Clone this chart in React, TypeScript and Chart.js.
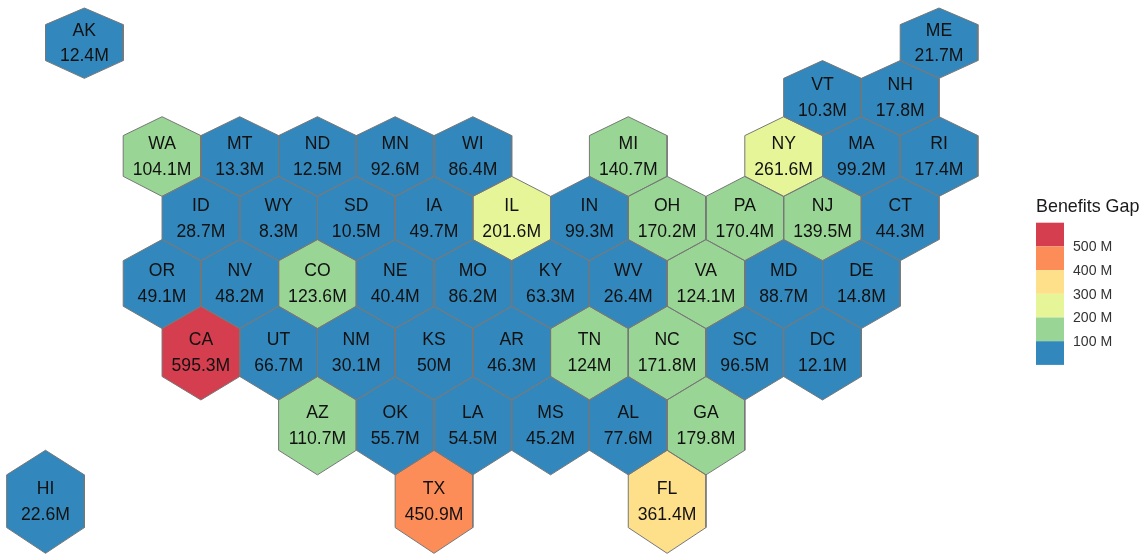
import { useEffect, useRef } from "react";
import { Chart, registerables } from "chart.js";

Chart.register(...registerables);

const stateCodes = [
  "AK", "ME",
  "VT", "NH",
  "WA", "MT", "ND", "MN", "WI", "MI", "NY", "MA", "RI",
  "ID", "WY", "SD", "IA", "IL", "IN", "OH", "PA", "NJ", "CT",
  "OR", "NV", "CO", "NE", "MO", "KY", "WV", "VA", "MD", "DE",
  "CA", "UT", "NM", "KS", "AR", "TN", "NC", "SC", "DC",
  "AZ", "OK", "LA", "MS", "AL", "GA",
  "HI", "TX", "FL",
];

// Benefits gap per state, in millions.
const gapValues = [
  12.4, 21.7,
  10.3, 17.8,
  104.1, 13.3, 12.5, 92.6, 86.4, 140.7, 261.6, 99.2, 17.4,
  28.7, 8.3, 10.5, 49.7, 201.6, 99.3, 170.2, 170.4, 139.5, 44.3,
  49.1, 48.2, 123.6, 40.4, 86.2, 63.3, 26.4, 124.1, 88.7, 14.8,
  595.3, 66.7, 30.1, 50, 46.3, 124, 171.8, 96.5, 12.1,
  110.7, 55.7, 54.5, 45.2, 77.6, 179.8,
  22.6, 450.9, 361.4,
];

// Hex grid position of each state: column in half-hex steps, row from the top.
const gridCols = [
  2, 24,
  21, 23,
  4, 6, 8, 10, 12, 16, 20, 22, 24,
  5, 7, 9, 11, 13, 15, 17, 19, 21, 23,
  4, 6, 8, 10, 12, 14, 16, 18, 20, 22,
  5, 7, 9, 11, 13, 15, 17, 19, 21,
  8, 10, 12, 14, 16, 18,
  1, 11, 17,
];
const gridRows = [
  0, 0,
  1, 1,
  2, 2, 2, 2, 2, 2, 2, 2, 2,
  3, 3, 3, 3, 3, 3, 3, 3, 3, 3,
  4, 4, 4, 4, 4, 4, 4, 4, 4, 4,
  5, 5, 5, 5, 5, 5, 5, 5, 5,
  6, 6, 6, 6, 6, 6,
  7, 7, 7,
];

const binLimits = [100, 200, 300, 400, 500];
const binColors = ["#3288BD", "#99D594", "#E6F598", "#FEE08B", "#FC8D59", "#D53E4F"];
const legendTitle = "Benefits Gap";

const WIDTH = 1147;
const HEIGHT = 554;
const FONT = '"Liberation Sans", Arial, sans-serif';

const colorFor = (v: number) => {
  const bin = binLimits.findIndex((limit) => v < limit);
  return binColors[bin === -1 ? binColors.length - 1 : bin];
};

// The map projection stretches rows progressively toward the south.
const project = (u: number) => 16.94 * u + 0.1962 * u * u;

const hexOutline = (col: number, row: number) => {
  const top = 3 * row;
  const upper = top + 0.97;
  const lower = top + 3;
  const bottom = top + 3.97;
  return [
    { x: col, y: project(top) },
    { x: col + 1, y: project(upper) },
    { x: col + 1, y: project(lower) },
    { x: col, y: project(bottom) },
    { x: col - 1, y: project(lower) },
    { x: col - 1, y: project(upper) },
    { x: col, y: project(top) },
  ];
};

const stateLabels = {
  id: "stateLabels",
  afterDatasetsDraw(chart: any) {
    const { ctx, scales } = chart;
    ctx.save();
    ctx.fillStyle = "#111111";
    ctx.font = `17.6px ${FONT}`;
    ctx.textAlign = "center";
    ctx.textBaseline = "middle";
    stateCodes.forEach((code, i) => {
      const row = gridRows[i];
      const x = scales.x.getPixelForValue(gridCols[i]);
      const y = scales.y.getPixelForValue(project(3 * row + 1.985)) + 1;
      const gap = (25.5 + 0.17 * row) / 2;
      ctx.fillText(code, x, y - gap);
      ctx.fillText(`${gapValues[i]}M`, x, y + gap);
    });
    ctx.restore();
  },
};

const binnedLegend = {
  id: "binnedLegend",
  afterDraw(chart: any) {
    const { ctx } = chart;
    const left = 1036;
    const keyWidth = 28;
    const keyHeight = 23.7;
    const top = 222.7;
    ctx.save();
    ctx.textBaseline = "middle";
    ctx.textAlign = "left";
    ctx.fillStyle = "#1a1a1a";
    ctx.font = `17.9px ${FONT}`;
    ctx.fillText(legendTitle, left, 207);
    const reversed = [...binColors].reverse();
    reversed.forEach((color, i) => {
      ctx.fillStyle = color;
      ctx.fillRect(left, top + i * keyHeight, keyWidth, keyHeight);
    });
    ctx.fillStyle = "#333333";
    ctx.font = `14.1px ${FONT}`;
    [...binLimits].reverse().forEach((limit, i) => {
      ctx.fillText(`${limit} M`, 1073, top + (i + 1) * keyHeight + 1);
    });
    ctx.restore();
  },
};

export default function App() {
  const canvasRef = useRef<HTMLCanvasElement>(null);

  useEffect(() => {
    const chart = new Chart(canvasRef.current as HTMLCanvasElement, {
      type: "scatter",
      data: {
        datasets: stateCodes.map((code, i) => ({
          label: code,
          data: hexOutline(gridCols[i], gridRows[i]),
          showLine: true,
          fill: "shape",
          tension: 0,
          backgroundColor: colorFor(gapValues[i]),
          borderColor: "#777777",
          borderWidth: 1,
          pointRadius: 0,
          pointHoverRadius: 0,
          clip: false,
        })),
      },
      options: {
        animation: false,
        responsive: false,
        events: [],
        layout: { padding: 0 },
        plugins: {
          legend: { display: false },
          tooltip: { enabled: false },
          // All fills go down first so no hexagon covers a neighbour's outline.
          filler: { drawTime: "beforeDatasetsDraw" },
        },
        scales: {
          x: { type: "linear", display: false, min: 1 - 45.5 / 38.85, max: 1 + (WIDTH - 45.5) / 38.85 },
          y: { type: "linear", display: false, reverse: true, min: -8, max: HEIGHT - 8 },
        },
      },
      plugins: [stateLabels, binnedLegend],
    } as any);
    return () => chart.destroy();
  }, []);

  return (
    <canvas
      ref={canvasRef}
      width={WIDTH}
      height={HEIGHT}
      style={{ position: "fixed", left: 0, top: 0, display: "block" }}
    />
  );
}
